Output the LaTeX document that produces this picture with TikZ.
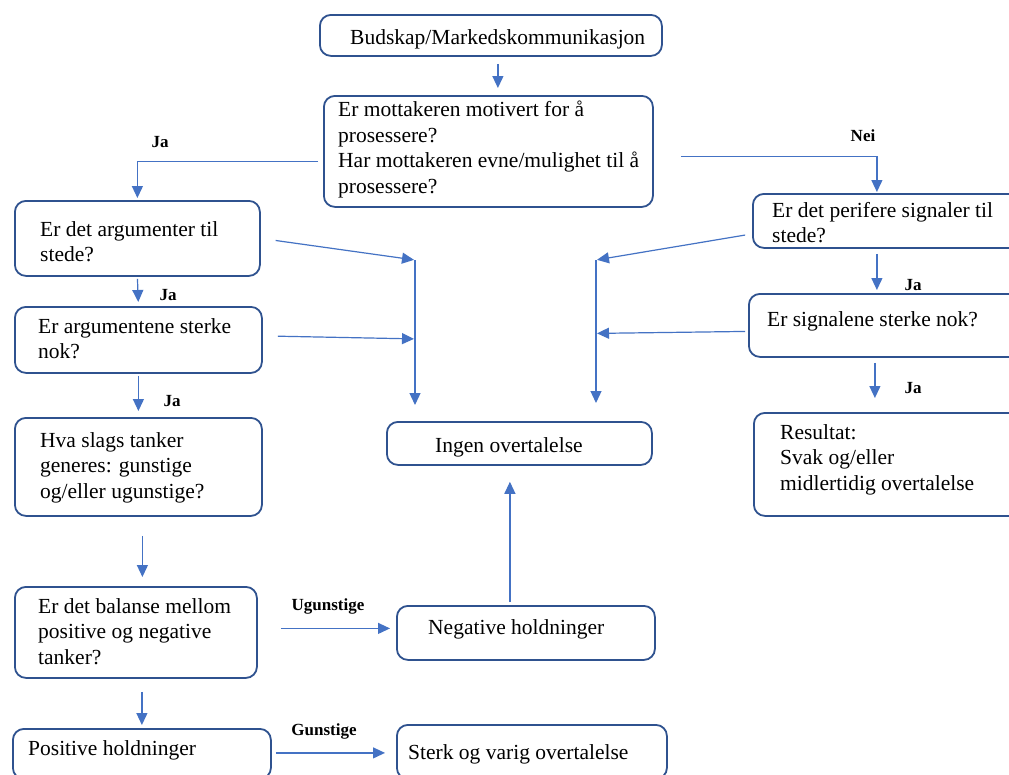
\documentclass[tikz,border=0pt]{standalone}
\usepackage{fontspec}
\setmainfont{Liberation Serif}
\usetikzlibrary{arrows.meta}
\definecolor{boxblue}{HTML}{2F528F}
\definecolor{lineblue}{HTML}{4472C4}
\tikzstyle{flowbox} = [draw=boxblue, line width=1.8pt, rectangle, rounded corners=11pt,
    inner sep=0pt, anchor=north west]
\tikzstyle{boxtext} = [inner sep=0pt, anchor=north west, align=left,
    font=\fontsize{21.5}{25.5}\selectfont]
\tikzstyle{answer} = [inner sep=0pt, font=\fontsize{17}{20}\selectfont\bfseries]
\tikzstyle{arrowline} = [draw=lineblue, line width=1.2pt,
    -{Triangle[length=12pt,width=11pt]}, lineblue]

\begin{document}
\begin{tikzpicture}[x=1pt, y=-1pt]
                \useasboundingbox (0,0) rectangle (1009,774);
                \fill[white] (0,0) rectangle (1009,774);
                \clip (0,0) rectangle (1009,774);
                \node[flowbox, minimum width=342, minimum height=41] (bud) at (319,14) {};
                \node[flowbox, minimum width=329, minimum height=111] (motiv) at (323,95) {};
                \node[flowbox, minimum width=245, minimum height=75] (argu) at (14,200) {};
                \node[flowbox, minimum width=247, minimum height=66] (argn) at (14,306) {};
                \node[flowbox, minimum width=247, minimum height=98] (hva) at (14,417) {};
                \node[flowbox, minimum width=242, minimum height=91] (bal) at (14,586) {};
                \node[flowbox, minimum width=258, minimum height=50] (pos) at (12,728) {};
                \node[flowbox, minimum width=270, minimum height=54] (perif) at (752,193) {};
                \node[flowbox, minimum width=274, minimum height=63] (sign) at (748,293) {};
                \node[flowbox, minimum width=269, minimum height=103] (res) at (753,412) {};
                \node[flowbox, minimum width=265, minimum height=43] (ingen) at (386,421) {};
                \node[flowbox, minimum width=258, minimum height=54] (neg) at (396,605) {};
                \node[flowbox, minimum width=270, minimum height=54] (sterk) at (396,724) {};

                \node[boxtext] (bud-t) at (350,29) {Budskap/Markedskommunikasjon};
                \node[boxtext] (motiv-t) at (338,101) {Er mottakeren motivert for å\\prosessere?\\Har mottakeren evne/mulighet til å\\prosessere?};
                \node[boxtext] (argu-t) at (40,221) {Er det argumenter til\\stede?};
                \node[boxtext] (argn-t) at (38,318) {Er argumentene sterke\\nok?};
                \node[boxtext] (hva-t) at (40,432) {Hva slags tanker\\generes: gunstige\\og/eller ugunstige?};
                \node[boxtext] (bal-t) at (38,598) {Er det balanse mellom\\positive og negative\\tanker?};
                \node[boxtext] (pos-t) at (28,740) {Positive holdninger};
                \node[boxtext] (perif-t) at (772,202) {Er det perifere signaler til\\stede?};
                \node[boxtext] (sign-t) at (767,311) {Er signalene sterke nok?};
                \node[boxtext] (res-t) at (780,424) {Resultat:\\Svak og/eller\\midlertidig overtalelse};
                \node[boxtext] (ingen-t) at (435,437) {Ingen overtalelse};
                \node[boxtext] (neg-t) at (428,619) {Negative holdninger};
                \node[boxtext] (sterk-t) at (408,744) {Sterk og varig overtalelse};

                \node[answer] (ja1) at (160,142) {Ja};
                \node[answer] (nei) at (863,136) {Nei};
                \node[answer] (ja2) at (168,295) {Ja};
                \node[answer] (ja3) at (172,401) {Ja};
                \node[answer] (ja4) at (913,285) {Ja};
                \node[answer] (ja5) at (913,388) {Ja};
                \node[answer] (ugun) at (328,606) {Ugunstige};
                \node[answer] (gun) at (324,731) {Gunstige};

                \coordinate (jl) at (415,260);
                \coordinate (jr) at (596,260);
                \coordinate (jl2) at (jl |- argn.east);
                \coordinate (jr2) at (jr |- sign.west);

                \draw[arrowline, shorten <=7pt, shorten >=7pt] ([xshift=7]bud.south) -- ([xshift=7]bud.south |- motiv.north);
                \draw[arrowline, shorten <=5pt, shorten >=2pt] ([yshift=-10]motiv.west) -| (argu.north);
                \draw[arrowline, shorten <=27pt, shorten >=1pt] ([yshift=-5]motiv.east) -| ([xshift=-11]perif.north);
                \draw[arrowline, shorten <=15pt, shorten >=1pt] (argu.east) -- (jl);
                \draw[arrowline, shorten <=15pt, shorten >=1pt] ([yshift=4]argn.east) -- ([yshift=1]jl2);
                \draw[arrowline, shorten >=16pt] (jl) -- (jl |- ingen.north);
                \draw[arrowline, shorten <=7pt, shorten >=1pt] ([yshift=-13]perif.west) -- (jr);
                \draw[arrowline, shorten <=3pt, shorten >=1pt] ([yshift=-6]sign.west) -- ([yshift=-8]jr2);
                \draw[arrowline, shorten >=18pt] (jr) -- (jr |- ingen.north);
                \draw[arrowline, shorten <=2pt, shorten >=4pt] (argu.south) -- (argn.north);
                \draw[arrowline, shorten <=2pt, shorten >=6pt] (argn.south) -- (hva.north);
                \draw[arrowline, shorten <=19pt, shorten >=9pt] ([xshift=4]hva.south) -- ([xshift=4]hva.south |- bal.north);
                \draw[arrowline, shorten <=13pt, shorten >=3pt] ([xshift=6]bal.south) -- ([xshift=6]bal.south |- pos.north);
                \draw[arrowline, shorten <=23pt, shorten >=6pt] ([yshift=4]bal.east) -- ([yshift=4]bal.east -| neg.west);
                \draw[arrowline, shorten <=4pt, shorten >=11pt] ([yshift=1]pos.east) -- ([yshift=1]pos.east -| sterk.west);
                \draw[arrowline, shorten <=3pt, shorten >=16pt] ([xshift=-16]neg.north) -- ([xshift=-16]neg.north |- ingen.south);
                \draw[arrowline, shorten <=5pt, shorten >=3pt] ([xshift=-11]perif.south) -- ([xshift=-11]perif.south |- sign.north);
                \draw[arrowline, shorten <=5pt, shorten >=14pt] ([xshift=-11]sign.south) -- ([xshift=-11]sign.south |- res.north);
            \end{tikzpicture}
\end{document}
